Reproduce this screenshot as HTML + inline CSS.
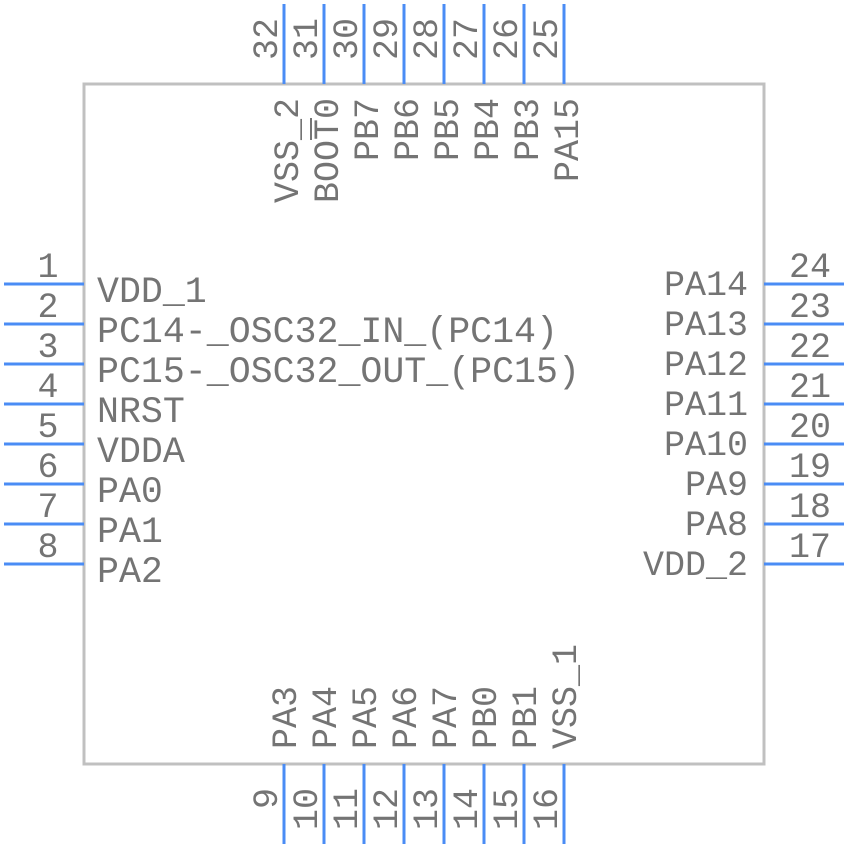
<!DOCTYPE html>
<html><head><style>html,body{margin:0;padding:0;background:#fff}svg{display:block}</style></head>
<body>
<svg width="848" height="848" viewBox="0 0 848 848" xmlns="http://www.w3.org/2000/svg" font-family="Liberation Mono, monospace" font-size="35" fill="#747474">
<rect x="84" y="84" width="680" height="680" fill="none" stroke="#c0c0c0" stroke-width="3"/>
<g stroke="#4a8cf5" stroke-width="3">
<line x1="4" y1="284" x2="84" y2="284"/><line x1="4" y1="324" x2="84" y2="324"/><line x1="4" y1="364" x2="84" y2="364"/><line x1="4" y1="404" x2="84" y2="404"/><line x1="4" y1="444" x2="84" y2="444"/><line x1="4" y1="484" x2="84" y2="484"/><line x1="4" y1="524" x2="84" y2="524"/><line x1="4" y1="564" x2="84" y2="564"/>
<line x1="764" y1="284" x2="844" y2="284"/><line x1="764" y1="324" x2="844" y2="324"/><line x1="764" y1="364" x2="844" y2="364"/><line x1="764" y1="404" x2="844" y2="404"/><line x1="764" y1="444" x2="844" y2="444"/><line x1="764" y1="484" x2="844" y2="484"/><line x1="764" y1="524" x2="844" y2="524"/><line x1="764" y1="564" x2="844" y2="564"/>
<line x1="284" y1="4" x2="284" y2="84"/><line x1="324" y1="4" x2="324" y2="84"/><line x1="364" y1="4" x2="364" y2="84"/><line x1="404" y1="4" x2="404" y2="84"/><line x1="444" y1="4" x2="444" y2="84"/><line x1="484" y1="4" x2="484" y2="84"/><line x1="524" y1="4" x2="524" y2="84"/><line x1="564" y1="4" x2="564" y2="84"/>
<line x1="284" y1="764" x2="284" y2="844"/><line x1="324" y1="764" x2="324" y2="844"/><line x1="364" y1="764" x2="364" y2="844"/><line x1="404" y1="764" x2="404" y2="844"/><line x1="444" y1="764" x2="444" y2="844"/><line x1="484" y1="764" x2="484" y2="844"/><line x1="524" y1="764" x2="524" y2="844"/><line x1="564" y1="764" x2="564" y2="844"/>
</g>
<g text-anchor="middle">
<text x="48" y="277">1</text><text x="48" y="317">2</text><text x="48" y="357">3</text><text x="48" y="397">4</text><text x="48" y="437">5</text><text x="48" y="477">6</text><text x="48" y="517">7</text><text x="48" y="557">8</text>
<text x="810" y="277">24</text><text x="810" y="317">23</text><text x="810" y="357">22</text><text x="810" y="397">21</text><text x="810" y="437">20</text><text x="810" y="477">19</text><text x="810" y="517">18</text><text x="810" y="557">17</text>
</g>
<g font-size="36.6">
<text x="97" y="302">VDD_1</text><text x="97" y="342">PC14-_OSC32_IN_(PC14)</text><text x="97" y="382">PC15-_OSC32_OUT_(PC15)</text><text x="97" y="422">NRST</text><text x="97" y="462">VDDA</text><text x="97" y="502">PA0</text><text x="97" y="542">PA1</text><text x="97" y="582">PA2</text>
</g>
<g text-anchor="end">
<text x="748" y="295">PA14</text><text x="748" y="335">PA13</text><text x="748" y="375">PA12</text><text x="748" y="415">PA11</text><text x="748" y="455">PA10</text><text x="748" y="495">PA9</text><text x="748" y="535">PA8</text><text x="748" y="575">VDD_2</text>
</g>
<g>
<text transform="translate(277,60) rotate(-90)">32</text><text transform="translate(317,60) rotate(-90)">31</text><text transform="translate(357,60) rotate(-90)">30</text><text transform="translate(397,60) rotate(-90)">29</text><text transform="translate(437,60) rotate(-90)">28</text><text transform="translate(477,60) rotate(-90)">27</text><text transform="translate(517,60) rotate(-90)">26</text><text transform="translate(557,60) rotate(-90)">25</text>
</g>
<g text-anchor="end">
<text transform="translate(298,98) rotate(-90)">VSS_2</text><text transform="translate(338,98) rotate(-90)">BOOT0</text><text transform="translate(378,98) rotate(-90)">PB7</text><text transform="translate(418,98) rotate(-90)">PB6</text><text transform="translate(458,98) rotate(-90)">PB5</text><text transform="translate(498,98) rotate(-90)">PB4</text><text transform="translate(538,98) rotate(-90)">PB3</text><text transform="translate(578,98) rotate(-90)">PA15</text>
</g>
<line x1="311" y1="118" x2="311" y2="140" stroke="#747474" stroke-width="2"/>
<g>
<text transform="translate(296,749) rotate(-90)">PA3</text><text transform="translate(336,749) rotate(-90)">PA4</text><text transform="translate(376,749) rotate(-90)">PA5</text><text transform="translate(416,749) rotate(-90)">PA6</text><text transform="translate(456,749) rotate(-90)">PA7</text><text transform="translate(496,749) rotate(-90)">PB0</text><text transform="translate(536,749) rotate(-90)">PB1</text><text transform="translate(576,749) rotate(-90)">VSS_1</text>
</g>
<g text-anchor="end">
<text transform="translate(277,788) rotate(-90)">9</text><text transform="translate(317,788) rotate(-90)">10</text><text transform="translate(357,788) rotate(-90)">11</text><text transform="translate(397,788) rotate(-90)">12</text><text transform="translate(437,788) rotate(-90)">13</text><text transform="translate(477,788) rotate(-90)">14</text><text transform="translate(517,788) rotate(-90)">15</text><text transform="translate(557,788) rotate(-90)">16</text>
</g>
</svg>
</body></html>
